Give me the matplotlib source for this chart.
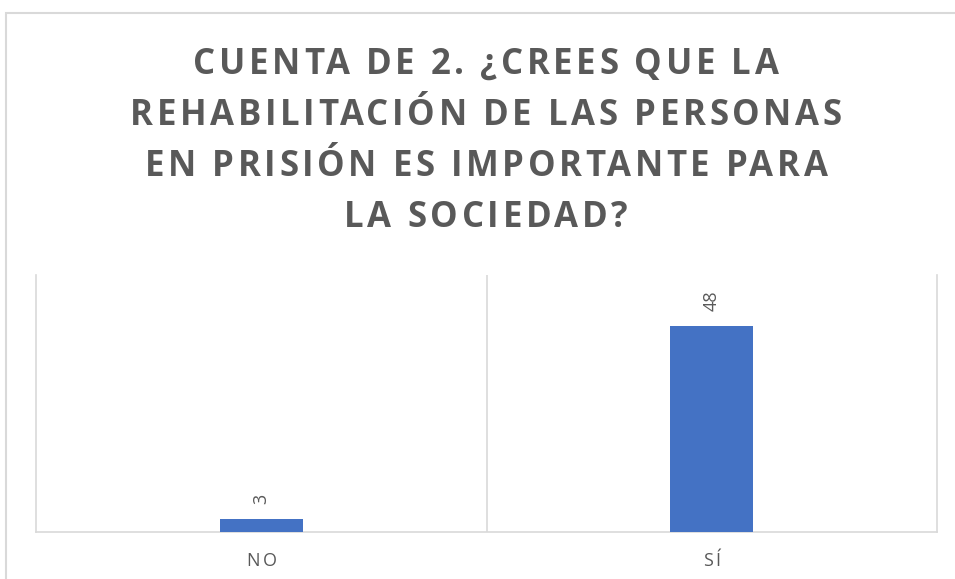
import matplotlib
matplotlib.use("Agg")
import matplotlib.pyplot as plt
from matplotlib.font_manager import FontProperties
from matplotlib.patches import Rectangle

# datos
categories = ["NO", "SÍ"]
counts = [3, 48]
title_lines = [
    "CUENTA DE 2. ¿CREES QUE LA",
    "REHABILITACIÓN DE LAS PERSONAS",
    "EN PRISIÓN ES IMPORTANTE PARA",
    "LA SOCIEDAD?",
]

GRAY = "#595959"
BLUE = "#4472C4"
GRID = "#D9D9D9"

W, H, DPI = 955, 579, 100
fig = plt.figure(figsize=(W / DPI, H / DPI), dpi=DPI)
renderer = fig.canvas.get_renderer()


def text_w(s, fp):
    if not s:
        return 0.0
    return renderer.get_text_width_height_descent(s, fp, ismath=False)[0]


def spaced_text(s, xc, y, fp, spacing, color):
    # texto con espaciado entre letras, centrado en xc (px), linea base y (px desde arriba)
    total = text_w(s, fp) + spacing * (len(s) - 1)
    x0 = xc - total / 2
    for i, ch in enumerate(s):
        if ch == " ":
            continue
        xi = x0 + text_w(s[:i + 1], fp) - text_w(ch, fp) + i * spacing
        fig.text(xi / W, 1 - y / H, ch, fontproperties=fp, color=color,
                 ha="left", va="baseline")


# marco exterior del grafico
fig.patches.append(Rectangle((6 / W, -0.5), 2, 1 - 13 / H + 0.5,
                             transform=fig.transFigure, fill=False,
                             edgecolor=GRID, lw=1.5))

# titulo
title_fp = FontProperties(family="Open Sans", weight="bold", size=25)
for k, line in enumerate(title_lines):
    spaced_text(line, 486, 74 + k * 51, title_fp, 3.6, GRAY)

# area de trazado
ax = fig.add_axes([36 / W, 1 - 532 / H, 901 / W, 257 / H])
x = list(range(len(categories)))
ax.bar(x, counts, width=0.184, color=BLUE, zorder=3)
ax.set_xlim(-0.5, len(categories) - 0.5)
ax.set_ylim(0, 60)
ax.axvline(0.5, color=GRID, lw=1.2, zorder=1)
for side in ["left", "right", "bottom"]:
    ax.spines[side].set_color(GRID)
    ax.spines[side].set_linewidth(1.2)
ax.spines["top"].set_visible(False)
ax.set_xticks([])
ax.set_yticks([])

# etiquetas de datos
for i, v in enumerate(counts):
    ax.annotate(str(v), (i, v), xytext=(0, 11), textcoords="offset points",
                rotation=90, ha="center", va="bottom", color=GRAY,
                family="Open Sans", fontsize=13)

# etiquetas de categorias
cat_fp = FontProperties(family="Open Sans", size=13)
fig.canvas.draw()
for i, c in enumerate(categories):
    px = ax.transData.transform((i, 0))[0]
    spaced_text(c, px, 566, cat_fp, 3.0, GRAY)

fig.savefig("out.png", dpi=DPI)
